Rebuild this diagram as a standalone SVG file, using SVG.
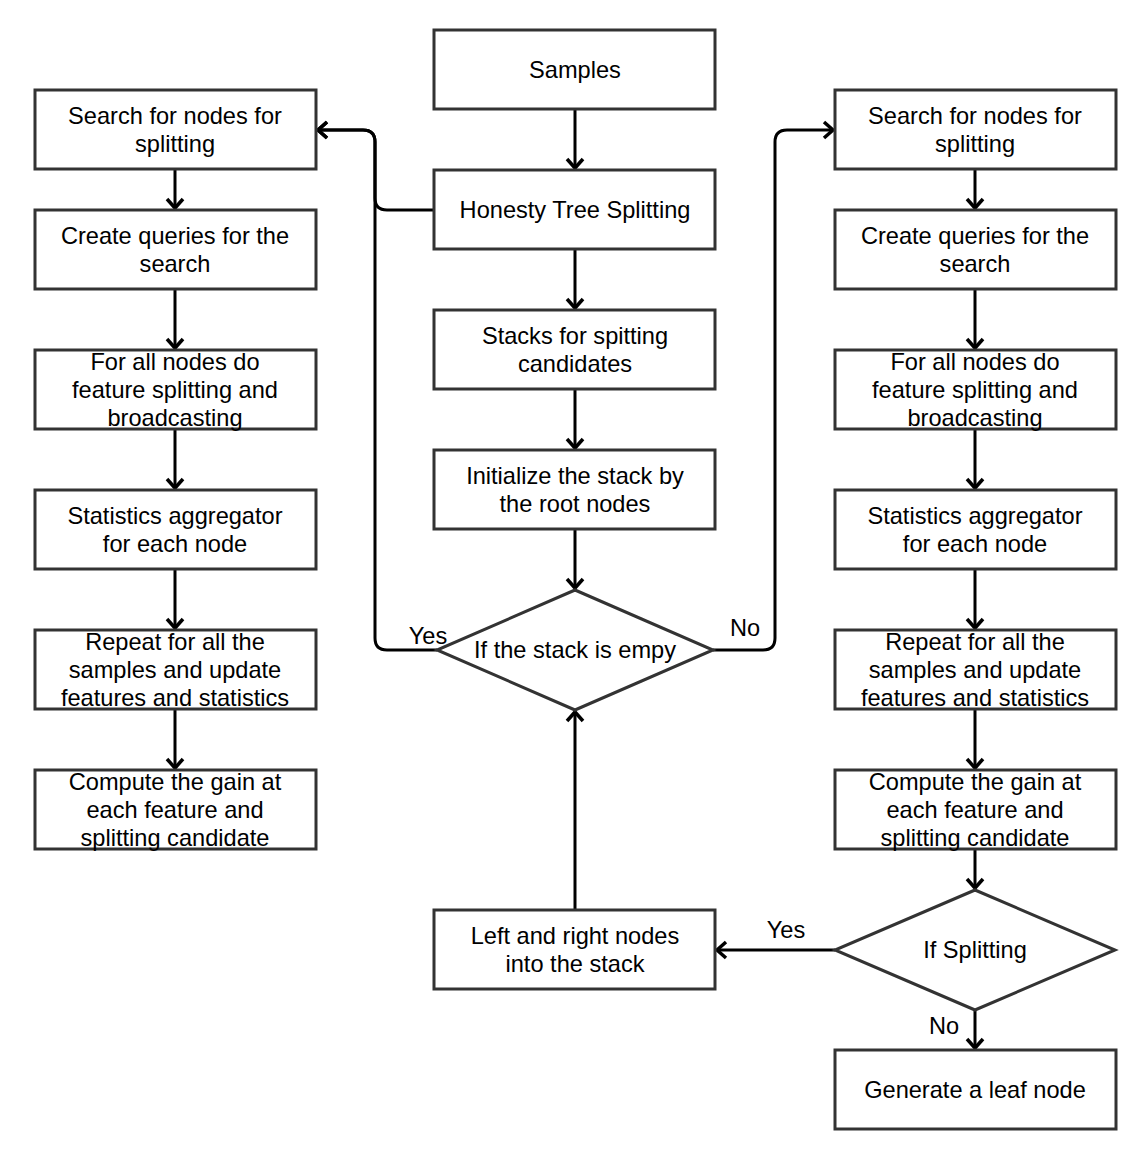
<svg xmlns="http://www.w3.org/2000/svg" width="1144" height="1158" viewBox="0 0 1144 1158">
<style>
.box{fill:#fff;stroke:#333;stroke-width:3}
.t{font-family:"Liberation Sans",Arial,sans-serif;font-size:23.6px;fill:#000;text-anchor:middle}
.c{fill:none;stroke:#000;stroke-width:3}
</style>
<defs>
<marker id="a" markerUnits="userSpaceOnUse" markerWidth="24" markerHeight="24" viewBox="-12 -12 24 24" refX="0" refY="0" orient="auto">
<path d="M-9,-8 L0,0 L-9,8" fill="none" stroke="#000" stroke-width="3.5"/>
</marker>
</defs>
<rect width="1144" height="1158" fill="#fff"/>
<g id="connectors">
<path class="c" marker-end="url(#a)" d="M575,109 L575,168"/>
<path class="c" marker-end="url(#a)" d="M575,249 L575,308"/>
<path class="c" marker-end="url(#a)" d="M575,389 L575,448"/>
<path class="c" marker-end="url(#a)" d="M575,529 L575,588"/>
<path class="c" marker-end="url(#a)" d="M434,210 L387,210 Q375,210 375,198 L375,142 Q375,130 363,130 L318,130"/>
<path class="c" marker-end="url(#a)" d="M437,650 L387,650 Q375,650 375,638 L375,142 Q375,130 363,130 L318,130"/>
<path class="c" marker-end="url(#a)" d="M713,650 L763,650 Q775,650 775,638 L775,142 Q775,130 787,130 L833,130"/>
<path class="c" marker-end="url(#a)" d="M175,169 L175,208"/>
<path class="c" marker-end="url(#a)" d="M175,289 L175,348"/>
<path class="c" marker-end="url(#a)" d="M175,429 L175,488"/>
<path class="c" marker-end="url(#a)" d="M175,569 L175,628"/>
<path class="c" marker-end="url(#a)" d="M175,709 L175,768"/>
<path class="c" marker-end="url(#a)" d="M975,169 L975,208"/>
<path class="c" marker-end="url(#a)" d="M975,289 L975,348"/>
<path class="c" marker-end="url(#a)" d="M975,429 L975,488"/>
<path class="c" marker-end="url(#a)" d="M975,569 L975,628"/>
<path class="c" marker-end="url(#a)" d="M975,709 L975,768"/>
<path class="c" marker-end="url(#a)" d="M975,849 L975,888"/>
<path class="c" marker-end="url(#a)" d="M835,950 L717,950"/>
<path class="c" marker-end="url(#a)" d="M975,1010 L975,1048"/>
<path class="c" marker-end="url(#a)" d="M575,910 L575,712"/>
<text class="t" x="428" y="644">Yes</text>
<text class="t" x="745" y="636">No</text>
<text class="t" x="786" y="938">Yes</text>
<text class="t" x="944" y="1034">No</text>
</g>
<g id="samples"><rect class="box" x="434" y="30" width="281" height="79"/><text class="t" x="575" y="78">Samples</text></g>
<g id="honesty"><rect class="box" x="434" y="170" width="281" height="79"/><text class="t" x="575" y="218">Honesty Tree Splitting</text></g>
<g id="stacks"><rect class="box" x="434" y="310" width="281" height="79"/><text class="t" x="575" y="344">Stacks for spitting</text><text class="t" x="575" y="372">candidates</text></g>
<g id="init"><rect class="box" x="434" y="450" width="281" height="79"/><text class="t" x="575" y="484">Initialize the stack by</text><text class="t" x="575" y="512">the root nodes</text></g>
<g id="empty"><polygon class="box" points="575,590 713,650 575,710 437,650"/><text class="t" x="575" y="658">If the stack is empy</text></g>
<g id="lr"><rect class="box" x="434" y="910" width="281" height="79"/><text class="t" x="575" y="944">Left and right nodes</text><text class="t" x="575" y="972">into the stack</text></g>

<g id="l1"><rect class="box" x="35" y="90" width="281" height="79"/><text class="t" x="175" y="124">Search for nodes for</text><text class="t" x="175" y="152">splitting</text></g>
<g id="l2"><rect class="box" x="35" y="210" width="281" height="79"/><text class="t" x="175" y="244">Create queries for the</text><text class="t" x="175" y="272">search</text></g>
<g id="l3"><rect class="box" x="35" y="350" width="281" height="79"/><text class="t" x="175" y="370">For all nodes do</text><text class="t" x="175" y="398">feature splitting and</text><text class="t" x="175" y="426">broadcasting</text></g>
<g id="l4"><rect class="box" x="35" y="490" width="281" height="79"/><text class="t" x="175" y="524">Statistics aggregator</text><text class="t" x="175" y="552">for each node</text></g>
<g id="l5"><rect class="box" x="35" y="630" width="281" height="79"/><text class="t" x="175" y="650">Repeat for all the</text><text class="t" x="175" y="678">samples and update</text><text class="t" x="175" y="706">features and statistics</text></g>
<g id="l6"><rect class="box" x="35" y="770" width="281" height="79"/><text class="t" x="175" y="790">Compute the gain at</text><text class="t" x="175" y="818">each feature and</text><text class="t" x="175" y="846">splitting candidate</text></g>

<g id="r1"><rect class="box" x="835" y="90" width="281" height="79"/><text class="t" x="975" y="124">Search for nodes for</text><text class="t" x="975" y="152">splitting</text></g>
<g id="r2"><rect class="box" x="835" y="210" width="281" height="79"/><text class="t" x="975" y="244">Create queries for the</text><text class="t" x="975" y="272">search</text></g>
<g id="r3"><rect class="box" x="835" y="350" width="281" height="79"/><text class="t" x="975" y="370">For all nodes do</text><text class="t" x="975" y="398">feature splitting and</text><text class="t" x="975" y="426">broadcasting</text></g>
<g id="r4"><rect class="box" x="835" y="490" width="281" height="79"/><text class="t" x="975" y="524">Statistics aggregator</text><text class="t" x="975" y="552">for each node</text></g>
<g id="r5"><rect class="box" x="835" y="630" width="281" height="79"/><text class="t" x="975" y="650">Repeat for all the</text><text class="t" x="975" y="678">samples and update</text><text class="t" x="975" y="706">features and statistics</text></g>
<g id="r6"><rect class="box" x="835" y="770" width="281" height="79"/><text class="t" x="975" y="790">Compute the gain at</text><text class="t" x="975" y="818">each feature and</text><text class="t" x="975" y="846">splitting candidate</text></g>
<g id="split"><polygon class="box" points="975,890 1115,950 975,1010 835,950"/><text class="t" x="975" y="958">If Splitting</text></g>
<g id="leaf"><rect class="box" x="835" y="1050" width="281" height="79"/><text class="t" x="975" y="1098">Generate a leaf node</text></g>
</svg>
